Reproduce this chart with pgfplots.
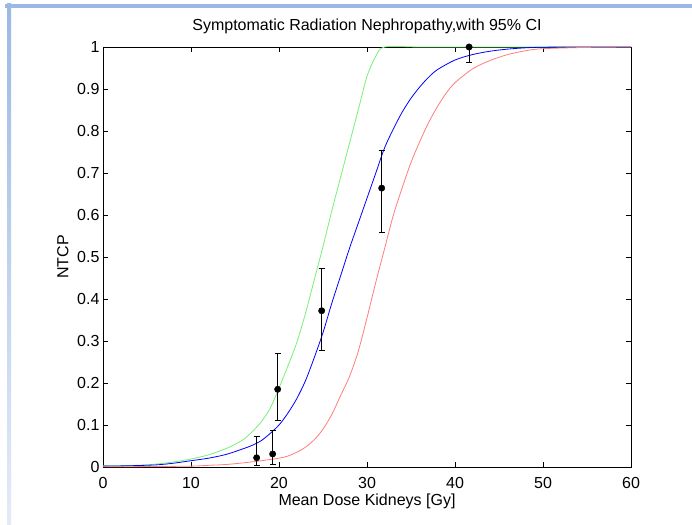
\documentclass[border=0pt]{standalone}
\usepackage{fontspec}
\setmainfont{Liberation Sans}
\usepackage{pgfplots}
\pgfplotsset{compat=1.18}
\definecolor{slideblue}{RGB}{155,185,228}
\definecolor{slidelight}{RGB}{228,235,247}
\definecolor{mgreen}{RGB}{120,240,120}
\definecolor{mred}{RGB}{255,125,125}
\begin{document}
\begin{tikzpicture}[font=\fontsize{16}{19}\selectfont]
\path[use as bounding box] (0,0) rectangle (692pt,524pt);
\fill[white] (0,0) rectangle (692pt,524pt);
\fill[slideblue] (5pt,516pt) rectangle (692pt,520pt);
\shade[top color=slideblue, bottom color=slidelight] (7pt,0) rectangle (11pt,520pt);
\begin{axis}[
  at={(103pt,57pt)}, anchor=south west,
  scale only axis, width=528pt, height=420pt,
  xmin=0, xmax=60, ymin=0, ymax=1,
  xtick={0,10,20,30,40,50,60},
  ytick={0,0.1,0.2,0.3,0.4,0.5,0.6,0.7,0.8,0.9,1},
  /pgf/number format/assume math mode=true,
  tick align=inside, major tick length=5pt,
  tick style={black, line width=0.6pt},
  axis line style={black, line width=0.8pt},
  ticklabel style={font=\fontsize{16}{19}\selectfont},
  xticklabel style={yshift=-7pt},
  title={Symptomatic Radiation Nephropathy,with 95\% CI},
  title style={font=\fontsize{16}{19}\selectfont, at={(axis description cs:0.5,1)}, anchor=south, yshift=4pt},
  xlabel={Mean Dose Kidneys [Gy]},
  xlabel style={font=\fontsize{16}{19}\selectfont, at={(axis description cs:0.5,0)}, anchor=north, yshift=-23pt},
  ylabel={NTCP},
  ylabel style={font=\fontsize{16}{19}\selectfont, at={(axis description cs:-0.0758,0.5)}, anchor=center},
  clip=false,
]
% upper CI (green)
\addplot[mgreen, line width=0.8pt, smooth] coordinates {
(0,0.003) (2,0.003) (4,0.004) (6,0.007) (8,0.012) (10,0.019) (12,0.029)
(14,0.044) (15,0.054) (16,0.066) (17,0.085) (18,0.108) (19,0.14) (20,0.188)
(21,0.24) (22,0.295) (23,0.365) (24,0.445) (25,0.525) (26,0.61) (27,0.69)
(28,0.77) (29,0.85) (30,0.93) (31,0.978) (32,1.0) (36,1.0) (40,1.0) (50,1.0) (60,1.0)
};
% fit (blue)
\addplot[blue, line width=0.8pt, smooth] coordinates {
(0,0.002) (3,0.003) (6,0.005) (8,0.009) (10,0.015) (12,0.021) (14,0.03)
(16,0.044) (17,0.052) (18,0.063) (19,0.08) (20,0.1) (21,0.128) (22,0.162)
(23,0.205) (24,0.26) (25,0.32) (26,0.39) (27,0.455) (28,0.52) (29,0.58)
(30,0.64) (31,0.70) (32,0.76) (33,0.805) (34,0.845) (35,0.878) (36,0.905)
(37,0.928) (38,0.946) (40,0.969) (42,0.982) (44,0.99) (46,0.995) (48,0.998)
(50,0.9995) (55,1.0) (60,1.0)
};
% lower CI (red)
\addplot[mred, line width=0.8pt, smooth] coordinates {
(0,0.0005) (5,0.001) (10,0.002) (12,0.004) (14,0.006) (16,0.01) (18,0.015)
(20,0.021) (21,0.026) (22,0.035) (23,0.047) (24,0.065) (25,0.09) (26,0.125)
(27,0.17) (28,0.215) (29,0.275) (30,0.355) (31,0.44) (32,0.52) (33,0.60)
(34,0.665) (35,0.725) (36,0.775) (37,0.82) (38,0.858) (39,0.89) (40,0.915)
(42,0.948) (44,0.968) (46,0.982) (48,0.991) (50,0.996) (55,0.999) (60,1.0)
};
% observed data with error bars
\addplot[only marks, mark=*, mark size=3.2pt, black,
  error bars/.cd, y dir=both, y explicit,
  error bar style={black, line width=0.7pt},
  error mark options={black, rotate=90, mark size=3pt, line width=0.6pt}]
coordinates {
(17.46,0.022) += (0,0.050) -= (0,0.017)
(19.28,0.031) += (0,0.056) -= (0,0.024)
(19.85,0.185) += (0,0.086) -= (0,0.075)
(24.85,0.372) += (0,0.101) -= (0,0.095)
(31.67,0.664) += (0,0.090) -= (0,0.106)
(41.6,1.0) += (0,0.0) -= (0,0.036)
};
\end{axis}
\end{tikzpicture}
\end{document}
